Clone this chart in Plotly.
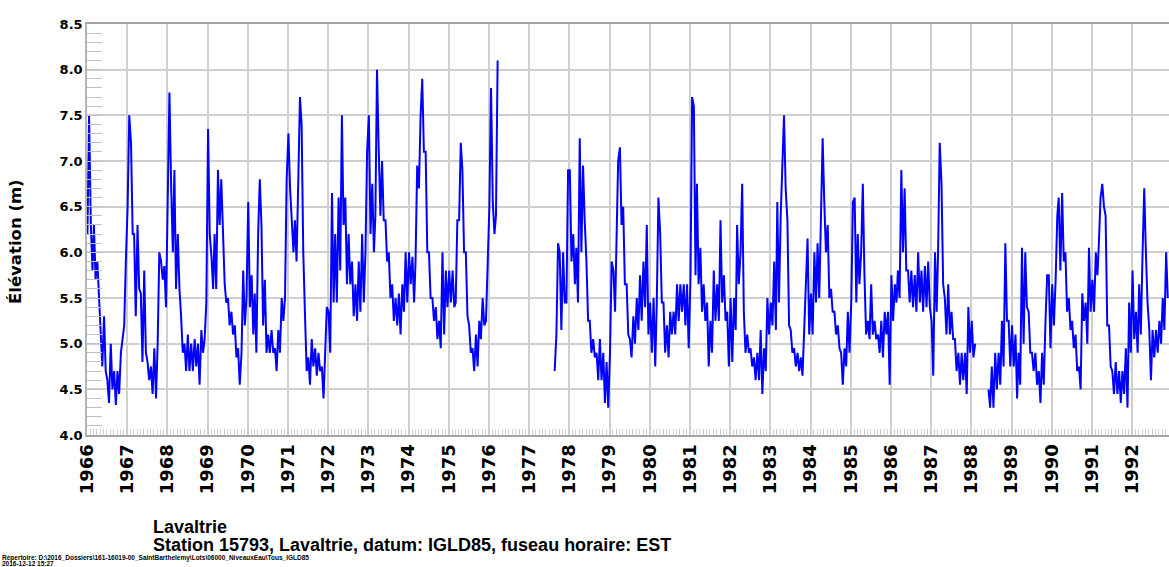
import plotly.graph_objects as go

N = None
# Semi-monthly readings (day 5, day 20 of each month), metres, IGLD85
y1966 = [6.2, 7.5, 6.3, 5.8, 6.3, 5.7, 5.9, 5.45, 5.2, 4.75, 5.3, 4.7, 4.6, 4.35, 5.0, 4.5, 4.7, 4.33, 4.7, 4.45, 4.9, 5.05, 5.2, 5.9]
y1967 = [6.5, 7.5, 7.2, 6.2, 6.2, 5.3, 6.3, 5.6, 5.55, 4.8, 5.8, 4.9, 4.8, 4.6, 4.75, 4.45, 4.95, 4.4, 5.0, 6.0, 5.9, 5.7, 5.85, 5.4]
y1968 = [6.8, 7.75, 6.7, 6.0, 6.9, 5.6, 6.2, 5.6, 5.3, 4.9, 5.0, 4.7, 5.1, 4.7, 5.0, 4.7, 5.05, 4.75, 5.0, 4.55, 5.15, 4.9, 5.05, 5.45]
y1969 = [7.35, 6.2, 5.95, 5.6, 6.2, 5.6, 6.9, 6.3, 6.8, 6.15, 5.65, 5.45, 5.5, 5.2, 5.35, 5.1, 5.2, 4.85, 4.95, 4.55, 4.9, 5.8, 5.2, 5.5]
y1970 = [6.55, 5.4, 5.75, 5.1, 5.55, 4.9, 6.2, 6.8, 6.3, 5.2, 5.7, 4.9, 5.1, 4.9, 5.15, 4.9, 4.95, 4.7, 5.15, 4.9, 5.5, 5.25, 5.5, 6.8]
y1971 = [7.3, 6.7, 6.35, 6.0, 6.35, 5.9, 6.8, 7.7, 7.4, 6.0, 5.3, 4.7, 4.85, 4.55, 5.05, 4.75, 4.95, 4.65, 4.9, 4.7, 4.75, 4.4, 4.9, 5.4]
y1972 = [5.35, 4.9, 6.65, 5.45, 6.2, 5.45, 6.6, 5.8, 7.5, 6.3, 6.6, 5.65, 6.2, 5.65, 5.9, 5.3, 5.65, 5.25, 5.9, 5.35, 6.2, 5.45, 6.0, 7.1]
y1973 = [7.5, 6.2, 6.75, 6.0, 6.4, 8.0, 7.1, 6.4, 7.0, 6.35, 6.35, 5.9, 6.0, 5.5, 5.65, 5.25, 5.5, 5.2, 5.55, 5.1, 5.65, 5.35, 6.0, 5.45]
y1974 = [6.0, 5.65, 5.95, 5.45, 5.9, 6.95, 6.7, 7.5, 7.9, 7.1, 7.1, 6.0, 6.0, 5.5, 5.5, 5.25, 5.4, 5.05, 5.25, 4.95, 6.0, 5.1, 5.8, 5.4]
y1975 = [5.8, 5.45, 5.8, 5.4, 5.45, 6.35, 6.35, 7.2, 6.9, 6.0, 6.0, 5.3, 5.2, 4.9, 4.95, 4.7, 5.1, 4.75, 5.25, 5.05, 5.5, 5.2, 5.25, 6.0]
y1976 = [6.5, 7.8, 6.55, 6.2, 6.4, 8.1, N, N, N, N, N, N, N, N, N, N, N, N, N, N, N, N, N, N]
y1977 = [N, N, N, N, N, N, N, N, N, N, N, N, N, N, N, 4.7, 5.1, 6.1, 6.0, 5.15, 6.0, 5.45, 5.45, 6.9]
y1978 = [6.9, 5.9, 6.2, 5.65, 6.05, 5.45, 7.25, 6.0, 6.95, 6.35, 5.9, 5.25, 5.25, 4.9, 5.05, 4.85, 4.9, 4.6, 5.05, 4.6, 4.9, 4.35, 4.8, 4.3]
y1979 = [4.9, 5.9, 5.8, 5.35, 6.2, 7.0, 7.15, 6.3, 6.5, 5.65, 5.65, 5.1, 5.05, 4.85, 5.3, 5.0, 5.5, 5.15, 5.75, 5.25, 5.9, 5.4, 6.3, 5.1]
y1980 = [5.45, 4.9, 5.5, 4.75, 5.45, 6.6, 6.2, 5.45, 5.45, 4.9, 5.2, 4.85, 5.35, 5.1, 5.35, 5.1, 5.65, 5.25, 5.65, 5.35, 5.65, 5.2, 5.65, 4.95]
y1981 = [5.7, 7.7, 7.6, 5.75, 6.75, 5.65, 6.05, 5.35, 5.65, 5.25, 5.45, 4.75, 5.25, 4.9, 5.8, 5.25, 5.65, 5.25, 6.35, 5.45, 5.75, 5.25, 5.35, 4.75]
y1982 = [5.5, 4.8, 5.5, 5.15, 6.3, 5.65, 6.0, 6.75, 5.35, 4.9, 5.1, 4.9, 4.95, 4.75, 4.85, 4.6, 4.9, 4.6, 5.15, 4.45, 4.95, 4.7, 5.5, 5.1]
y1983 = [5.45, 5.2, 5.9, 5.15, 6.55, 5.45, 6.4, 7.1, 7.5, 6.7, 6.35, 5.2, 5.15, 4.9, 4.95, 4.75, 4.9, 4.7, 4.85, 4.65, 5.25, 5.7, 6.15, 5.1]
y1984 = [5.55, 5.1, 6.0, 5.45, 6.1, 5.5, 6.35, 7.25, 6.55, 6.0, 6.3, 5.5, 5.6, 5.35, 5.35, 5.1, 5.2, 4.95, 4.9, 4.55, 4.95, 4.75, 5.35, 4.9]
y1985 = [5.45, 6.55, 6.6, 5.45, 6.2, 5.65, 6.0, 6.75, 5.75, 5.1, 5.25, 5.05, 5.65, 5.1, 5.25, 5.05, 5.1, 4.9, 5.25, 4.85, 5.35, 5.1, 5.35, 4.55]
y1986 = [5.75, 5.25, 5.65, 5.45, 5.8, 5.5, 6.9, 6.0, 6.7, 5.8, 5.8, 5.45, 5.8, 5.4, 5.75, 5.35, 6.0, 5.45, 5.8, 5.35, 5.85, 5.4, 5.9, 5.4]
y1987 = [5.25, 4.65, 6.0, 5.35, 6.0, 7.2, 6.75, 5.65, 5.5, 5.1, 5.65, 5.1, 5.35, 5.05, 5.05, 4.7, 4.9, 4.55, 4.9, 4.6, 4.9, 4.45, 5.4, 4.9]
y1988 = [5.25, 4.85, 5.0, N, N, N, N, N, N, N, 4.5, 4.3, 4.75, 4.3, 4.9, 4.5, 4.9, 4.55, 5.25, 4.75, 6.1, 5.25, 5.25, 4.75]
y1989 = [5.2, 4.75, 5.1, 4.4, 4.9, 4.55, 6.05, 5.0, 6.0, 5.4, 5.35, 4.9, 4.9, 4.7, 4.9, 4.55, 4.7, 4.35, 4.9, 4.55, 5.25, 5.75, 5.75, 4.95]
y1990 = [5.65, 5.2, 5.7, 6.4, 6.6, 5.8, 6.65, 5.9, 6.0, 5.35, 5.5, 5.15, 5.25, 4.95, 5.1, 4.7, 4.75, 4.5, 5.55, 5.25, 5.45, 5.0, 6.05, 5.35]
y1991 = [5.7, 5.35, 6.0, 5.75, 6.1, 6.6, 6.75, 6.5, 6.4, 5.2, 5.2, 4.75, 4.7, 4.45, 4.8, 4.45, 4.7, 4.35, 4.7, 4.45, 4.95, 4.3, 5.45, 4.9]
y1992 = [5.8, 5.05, 5.35, 4.9, 5.65, 5.1, 6.0, 6.7, 6.0, 5.45, 5.15, 4.6, 5.15, 4.85, 5.15, 4.9, 5.25, 5.0, 5.5, 5.15, 6.0, 5.5, N, N]

years = list(range(1966, 1993))
series = [y1966, y1967, y1968, y1969, y1970, y1971, y1972, y1973, y1974, y1975,
          y1976, y1977, y1978, y1979, y1980, y1981, y1982, y1983, y1984, y1985,
          y1986, y1987, y1988, y1989, y1990, y1991, y1992]

dates, levels = [], []
for yr, vals in zip(years, series):
    for m in range(12):
        for k, day in enumerate((5, 20)):
            dates.append(f"{yr}-{m + 1:02d}-{day:02d}")
            levels.append(vals[2 * m + k])

W, H = 1169, 567
L, R, T, B = 87, 0, 24, 132
PW, PH = W - L - R, H - T - B


def px(xp):
    return (xp - L) / PW


def py(yp):
    return (H - B - yp) / PH


fig = go.Figure()
fig.add_trace(go.Scatter(x=dates, y=levels, mode="lines",
                         line=dict(color="#0000ff", width=2),
                         connectgaps=False, hoverinfo="skip"))

bold_dv = dict(family="DejaVu Sans", weight="bold", color="black")
bold_lib = dict(family="Liberation Sans", weight="bold", color="black")

fig.update_layout(
    width=W, height=H,
    margin=dict(l=L, r=R, t=T, b=B, autoexpand=False),
    plot_bgcolor="white", paper_bgcolor="white",
    showlegend=False,
    xaxis=dict(
        type="date", automargin=False,
        range=["1966-01-01", "1992-12-01"],
        tick0="1966-01-01", dtick="M12", tickformat="%Y",
        tickangle=-90,
        tickfont=dict(size=18, **bold_dv),
        showgrid=True, gridcolor="#cfcfcf", gridwidth=1.6,
        showline=True, linecolor="#a3a3a3", linewidth=2, mirror=True,
        ticks="inside", ticklen=6, tickcolor="#cfcfcf",
        minor=dict(dtick="M1", ticks="inside", ticklen=6, tickcolor="#cfcfcf",
                   tickwidth=1, showgrid=False),
        zeroline=False,
    ),
    yaxis=dict(
        automargin=False,
        range=[4.0, 8.5], tick0=4.0, dtick=0.5, tickformat=".1f",
        tickfont=dict(size=13, **bold_dv),
        showgrid=True, gridcolor="#cfcfcf", gridwidth=1.6,
        showline=True, linecolor="#b5b5b5", linewidth=1.5,
        ticks="inside", ticklen=15, tickcolor="#c0c0c0",
        minor=dict(dtick=0.1, tick0=4.0, ticks="inside", ticklen=15,
                   tickcolor="#c0c0c0", tickwidth=1, showgrid=False),
        zeroline=False,
    ),
    annotations=[
        dict(text="Élévation (m)", xref="paper", yref="paper",
             x=px(15), y=py(242), xanchor="center", yanchor="middle",
             textangle=-90, showarrow=False,
             font=dict(size=16.5, **bold_dv)),
        dict(text="Lavaltrie", xref="paper", yref="paper",
             x=px(151), y=py(527), xanchor="left", yanchor="middle",
             showarrow=False, font=dict(size=18, **bold_lib)),
        dict(text="Station 15793, Lavaltrie, datum: IGLD85, fuseau horaire: EST",
             xref="paper", yref="paper",
             x=px(151), y=py(545), xanchor="left", yanchor="middle",
             showarrow=False, font=dict(size=18, **bold_lib)),
        dict(text="Répertoire: D:\\2016_Dossiers\\161-16019-00_SaintBarthelemy\\Lots\\06000_NiveauxEau\\Tous_IGLD85",
             xref="paper", yref="paper",
             x=px(0), y=py(558), xanchor="left", yanchor="middle",
             showarrow=False, font=dict(size=6.5, **bold_lib)),
        dict(text="2016-12-12 15:27",
             xref="paper", yref="paper",
             x=px(0), y=py(563.5), xanchor="left", yanchor="middle",
             showarrow=False, font=dict(size=6.5, **bold_lib)),
    ],
)

fig.write_html("out.html",
               config={"displayModeBar": False},
               post_script="document.body.style.margin='0';document.body.style.overflow='hidden';")
